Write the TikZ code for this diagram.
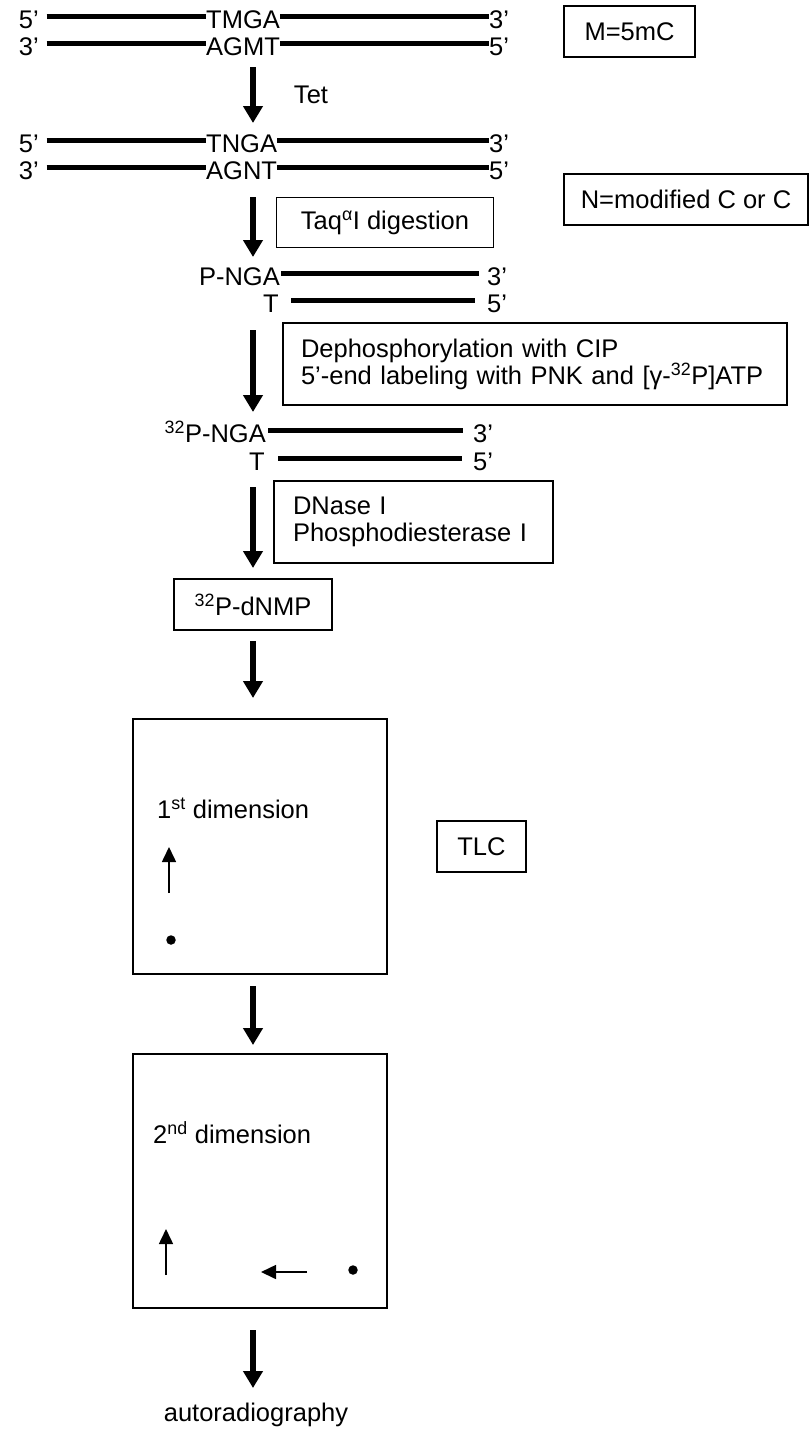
\documentclass[tikz,border=0pt]{standalone}
\usepackage{fontspec}
\setmainfont{Liberation Sans}
\usetikzlibrary{arrows.meta}
\begin{document}
\begin{tikzpicture}[x=1pt,y=-1pt,
  font=\fontsize{25.5}{27}\selectfont,
  txt/.style={inner sep=0pt},
  dna/.style={line width=5pt},
  box/.style={draw, line width=1.6pt, inner sep=0pt, align=center},
  bigarrow/.style={line width=5.5pt, -{Triangle[width=19pt,length=17pt]}},
  smallarrow/.style={line width=1.6pt, -{Triangle[width=14pt,length=15pt]}},
  dotmark/.style={circle, fill, inner sep=0pt, minimum size=9.5pt}]
\useasboundingbox (0,0) rectangle (811,1432);

% row 1 and 2
\node[txt, anchor=base east] (r1l) at (39,28) {5’};
\node[txt, anchor=base west] (r1m) at (206,28) {TMGA};
\node[txt, anchor=base west] (r1r) at (489,28) {3’};
\draw[dna] ([xshift=7.5pt,yshift=12pt]r1l.base east) -- ([yshift=12pt]r1m.base west);
\draw[dna] ([yshift=12pt]r1m.base east) -- ([yshift=12pt]r1r.base west);
\node[txt, anchor=base east] (r2l) at (39,55) {3’};
\node[txt, anchor=base west] (r2m) at (206,55) {AGMT};
\node[txt, anchor=base west] (r2r) at (489,55) {5’};
\draw[dna] ([xshift=7.5pt,yshift=12pt]r2l.base east) -- ([yshift=12pt]r2m.base west);
\draw[dna] ([yshift=12pt]r2m.base east) -- ([yshift=12pt]r2r.base west);

% row 3 and 4
\node[txt, anchor=base east] (r3l) at (39,152) {5’};
\node[txt, anchor=base west] (r3m) at (206,152) {TNGA};
\node[txt, anchor=base west] (r3r) at (489,152) {3’};
\draw[dna] ([xshift=7.5pt,yshift=12pt]r3l.base east) -- ([yshift=12pt]r3m.base west);
\draw[dna] ([yshift=12pt]r3m.base east) -- ([yshift=12pt]r3r.base west);
\node[txt, anchor=base east] (r4l) at (39,179.5) {3’};
\node[txt, anchor=base west] (r4m) at (206,179.5) {AGNT};
\node[txt, anchor=base west] (r4r) at (489,179.5) {5’};
\draw[dna] ([xshift=7.5pt,yshift=12pt]r4l.base east) -- ([yshift=12pt]r4m.base west);
\draw[dna] ([yshift=12pt]r4m.base east) -- ([yshift=12pt]r4r.base west);

% row 5 and 6
\node[txt, anchor=base east] (r5l) at (280,285) {P-NGA};
\node[txt, anchor=base west] (r5r) at (487,285) {3’};
\draw[dna, shorten <=1pt, shorten >=8pt] ([yshift=12pt]r5l.base east) -- ([yshift=12pt]r5r.base west);
\node[txt, anchor=base east] (r6l) at (279,312) {T};
\node[txt, anchor=base west] (r6r) at (487,312) {5’};
\draw[dna, shorten <=12pt, shorten >=12pt] ([yshift=12pt]r6l.base east) -- ([yshift=12pt]r6r.base west);

% row 7 and 8
\node[txt, anchor=base east] (r7l) at (266,442.5) {\textsuperscript{32}P-NGA};
\node[txt, anchor=base west] (r7r) at (473,442.5) {3’};
\draw[dna, shorten <=2pt, shorten >=10pt] ([yshift=12pt]r7l.base east) -- ([yshift=12pt]r7r.base west);
\node[txt, anchor=base east] (r8l) at (265,470) {T};
\node[txt, anchor=base west] (r8r) at (473,470) {5’};
\draw[dna, shorten <=13pt, shorten >=11pt] ([yshift=12pt]r8l.base east) -- ([yshift=12pt]r8r.base west);

% boxes
\node[box, minimum width=131pt, minimum height=51pt] (mbox) at (629.5,31.5) {M=5mC};
\node[box, minimum width=244pt, minimum height=51pt] (nbox) at (686,199.5) {N=modified C or C};
\node[box, minimum width=217pt, minimum height=50pt] (taq) at (385,222.5) {Taq\textsuperscript{α}I digestion};
\node[box, minimum height=82pt, text width=468pt, inner xsep=18pt, align=left] (deph) at (535,364)
  {\mbox{Dephosphorylation with CIP}\\\mbox{5’-end labeling with PNK and [γ-\textsuperscript{32}P]ATP}};
\node[box, minimum height=82pt, text width=241pt, inner xsep=19pt, align=left] (dnase) at (413.5,522)
  {\mbox{DNase I}\\\mbox{Phosphodiesterase I}};
\node[box, minimum width=158pt, minimum height=51pt] (dnmp) at (253,604.5) {\textsuperscript{32}P-dNMP};
\node[box, minimum width=89pt, minimum height=51pt] (tlc) at (481.5,846.5) {TLC};
\node[box, minimum width=254pt, minimum height=255pt] (plate1) at (260,846.5) {};
\node[box, minimum width=254pt, minimum height=254pt] (plate2) at (260,1181) {};
\node[txt, anchor=west] (dim1) at (157,808) {1\textsuperscript{st} dimension};
\node[txt, anchor=west] (dim2) at (153,1133) {2\textsuperscript{nd} dimension};
\node[txt] (tet) at (311,95) {Tet};
\node[txt] (auto) at (256,1415) {autoradiography};
\node[dotmark] (spot1) at (171,940) {};
\node[dotmark] (spot2) at (353,1270) {};

% arrow ends
\coordinate (a1s) at (253,67);   \coordinate (a1e) at (253,123);
\coordinate (a2s) at (253,197);  \coordinate (a2e) at (253,257);
\coordinate (a3s) at (253,330);  \coordinate (a3e) at (253,412);
\coordinate (a4s) at (253,487);  \coordinate (a4e) at (253,568);
\coordinate (a5s) at (253,641);  \coordinate (a5e) at (253,698);
\coordinate (a6s) at (253,986);  \coordinate (a6e) at (253,1045);
\coordinate (a7s) at (253,1330); \coordinate (a7e) at (253,1388);
\coordinate (u1s) at (169,893);  \coordinate (u1e) at (169,847);
\coordinate (u2s) at (166,1275); \coordinate (u2e) at (166,1229);
\coordinate (l2s) at (307,1272); \coordinate (l2e) at (261,1272);

\draw[bigarrow] (a1s) -- (a1e);
\draw[bigarrow] (a2s) -- (a2e);
\draw[bigarrow] (a3s) -- (a3e);
\draw[bigarrow] (a4s) -- (a4e);
\draw[bigarrow] (a5s) -- (a5e);
\draw[bigarrow] (a6s) -- (a6e);
\draw[bigarrow] (a7s) -- (a7e);
\draw[smallarrow] (u1s) -- (u1e);
\draw[smallarrow] (u2s) -- (u2e);
\draw[smallarrow] (l2s) -- (l2e);
\end{tikzpicture}
\end{document}
